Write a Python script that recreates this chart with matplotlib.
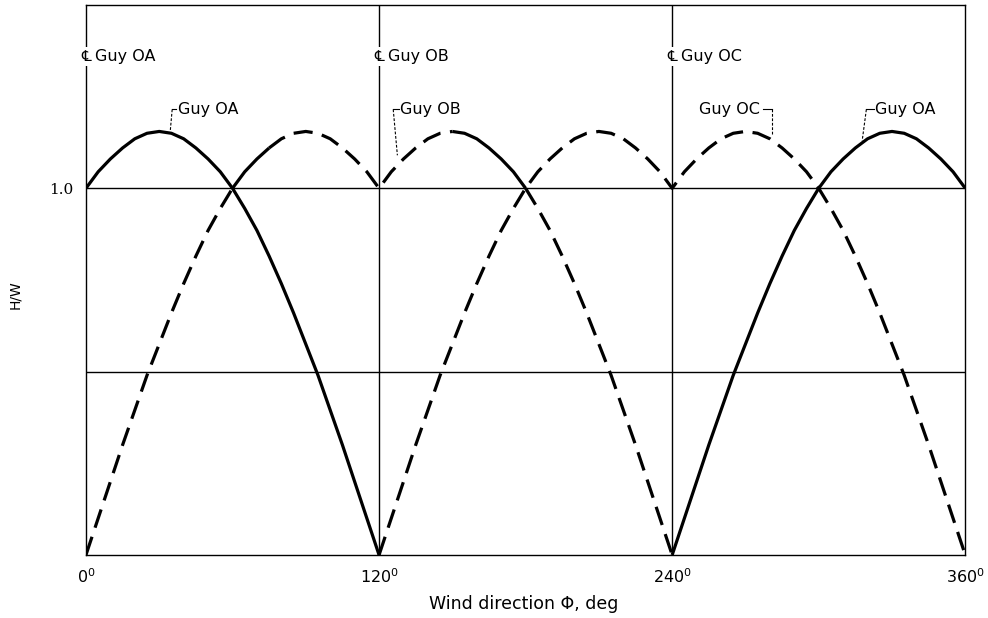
import matplotlib
matplotlib.use('Agg')
import matplotlib.pyplot as plt
import numpy as np

plt.rcParams['font.family'] = ['DejaVu Sans', 'Noto Sans CJK SC']

# wind direction grid, deg
phi = np.arange(0, 361, 5)
nan = np.nan

# H/W, every 5 deg (nan = guy not plotted)
guy_oa = [1.00, 1.045, 1.08, 1.11, 1.135, 1.15, 1.155, 1.15, 1.135, 1.11, 1.08, 1.045,
          1.00, 0.945, 0.885, 0.815, 0.74, 0.66, 0.575, 0.49, 0.395, 0.30, 0.20, 0.10, 0.00,
          nan, nan, nan, nan, nan, nan, nan, nan, nan, nan, nan, nan,
          nan, nan, nan, nan, nan, nan, nan, nan, nan, nan, nan,
          0.00, 0.10, 0.20, 0.30, 0.395, 0.49, 0.575, 0.66, 0.74, 0.815, 0.885, 0.945,
          1.00, 1.045, 1.08, 1.11, 1.135, 1.15, 1.155, 1.15, 1.135, 1.11, 1.08, 1.045, 1.00]
guy_ob = [0.00, 0.10, 0.20, 0.30, 0.395, 0.49, 0.575, 0.66, 0.74, 0.815, 0.885, 0.945,
          1.00, 1.045, 1.08, 1.11, 1.135, 1.15, 1.155, 1.15, 1.135, 1.11, 1.08, 1.045, 1.00,
          1.045, 1.08, 1.11, 1.135, 1.15, 1.155, 1.15, 1.135, 1.11, 1.08, 1.045, 1.00,
          0.945, 0.885, 0.815, 0.74, 0.66, 0.575, 0.49, 0.395, 0.30, 0.20, 0.10, 0.00,
          nan, nan, nan, nan, nan, nan, nan, nan, nan, nan, nan, nan,
          nan, nan, nan, nan, nan, nan, nan, nan, nan, nan, nan, nan]
guy_oc = [nan, nan, nan, nan, nan, nan, nan, nan, nan, nan, nan, nan,
          nan, nan, nan, nan, nan, nan, nan, nan, nan, nan, nan, nan,
          0.00, 0.10, 0.20, 0.30, 0.395, 0.49, 0.575, 0.66, 0.74, 0.815, 0.885, 0.945,
          1.00, 1.045, 1.08, 1.11, 1.135, 1.15, 1.155, 1.15, 1.135, 1.11, 1.08, 1.045, 1.00,
          1.045, 1.08, 1.11, 1.135, 1.15, 1.155, 1.15, 1.135, 1.11, 1.08, 1.045, 1.00,
          0.945, 0.885, 0.815, 0.74, 0.66, 0.575, 0.49, 0.395, 0.30, 0.20, 0.10, 0.00]

# line style over each range of phi
DASH = (0, (6, 3))
styles = {
    'oa': [(0, 360, '-')],
    'ob': [(0, 60, DASH), (60, 75, '-'), (75, 150, DASH), (150, 180, '-'), (180, 240, DASH)],
    'oc': [(120, 360, DASH)],
}
series = {'oa': guy_oa, 'ob': guy_ob, 'oc': guy_oc}

xticks = [0, 120, 240, 360]
xticklabels = [r'0$^{\mathregular{0}}$', r'120$^{\mathregular{0}}$',
               r'240$^{\mathregular{0}}$', r'360$^{\mathregular{0}}$']
centre_labels = [(0, 'Guy OA'), (120, 'Guy OB'), (240, 'Guy OC')]

fig = plt.figure(figsize=(9.88, 6.18), dpi=100)
ax = fig.add_axes([0.087, 0.102, 0.89, 0.89])

for key, vals in series.items():
    vals = np.array(vals, dtype=float)
    for lo, hi, ls in styles[key]:
        m = (phi >= lo) & (phi <= hi)
        ax.plot(phi[m], vals[m], color='black', lw=2.3, linestyle=ls,
                solid_capstyle='butt', dash_capstyle='butt', zorder=3)

# grid
for x in [120, 240]:
    ax.axvline(x, color='black', lw=1.0, zorder=1)
for y in [0.5, 1.0]:
    ax.axhline(y, color='black', lw=1.0, zorder=1)

ax.set_xlim(0, 360)
ax.set_ylim(0, 1.5)
for s in ax.spines.values():
    s.set_linewidth(1.0)
ax.set_xticks(xticks)
ax.set_xticklabels(xticklabels, fontsize=11.5)
ax.set_yticks([1.0])
ax.set_yticklabels(['1.0'], fontsize=11, family='DejaVu Serif')
ax.tick_params(length=0, pad=9)

# centerline labels
for x, lab in centre_labels:
    ax.text(x, 1.36, '\u2104', ha='center', va='center', fontsize=11,
            bbox=dict(facecolor='white', edgecolor='none', pad=1.5), zorder=4)
    ax.text(x + 3.5, 1.36, lab, ha='left', va='center', fontsize=11.5, zorder=4)

# curve labels with leader lines
leaders = [
    ('Guy OA', 37.5, 1.215, 'left', [(37.0, 1.215), (35.3, 1.215), (34.5, 1.155)]),
    ('Guy OB', 128.5, 1.215, 'left', [(128.0, 1.215), (125.8, 1.215), (127.5, 1.09)]),
    ('Guy OC', 276.0, 1.215, 'right', [(277.0, 1.215), (281.0, 1.215), (281.0, 1.145)]),
    ('Guy OA', 323.0, 1.215, 'left', [(322.5, 1.215), (319.5, 1.215), (317.8, 1.13)]),
]
for lab, tx, ty, ha, pts in leaders:
    ax.text(tx, ty, lab, ha=ha, va='center', fontsize=11.5, zorder=4)
    xs, ys = zip(*pts)
    ax.plot(xs[:2], ys[:2], color='black', lw=0.8, zorder=4)
    ax.plot(xs[1:], ys[1:], color='black', lw=0.8, linestyle=(0, (2.5, 1.5)), zorder=4)

fig.text(524 / 988, 1 - 604 / 618, 'Wind direction \u03a6, deg', ha='center', va='center', fontsize=12.5)
fig.text(15 / 988, 1 - 295 / 618, 'H/W', ha='center', va='center', rotation=90, fontsize=10)

fig.savefig('out.png', dpi=100)
